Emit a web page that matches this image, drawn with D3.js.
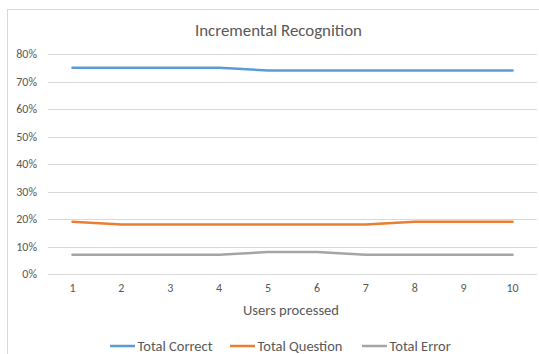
<!DOCTYPE html>
<html>
<head>
<meta charset="utf-8">
<script src="https://cdn.jsdelivr.net/npm/d3@7"></script>
<style>
  html, body { margin: 0; padding: 0; background: #fff; }
  svg { display: block; }
  text { font-family: Calibri, Carlito, Lato, sans-serif; fill: #595959; }
</style>
</head>
<body>
<script>
// Recognition rates after each processed user
const users = ["1", "2", "3", "4", "5", "6", "7", "8", "9", "10"];
const totalCorrect  = [75, 75, 75, 75, 74, 74, 74, 74, 74, 74];
const totalQuestion = [19, 18, 18, 18, 18, 18, 18, 19, 19, 19];
const totalError    = [7, 7, 7, 7, 8, 8, 7, 7, 7, 7];
const yTicks = [0, 10, 20, 30, 40, 50, 60, 70, 80];

const series = [
  { name: "Total Correct",  values: totalCorrect,  color: "#5B9BD5" },
  { name: "Total Question", values: totalQuestion, color: "#ED7D31" },
  { name: "Total Error",    values: totalError,    color: "#A5A5A5" }
];

const W = 539, H = 354;
const svg = d3.select("body").append("svg").attr("width", W).attr("height", H);

// scale a text's font size so it spans the given width
function fitWidth(sel, width) {
  const node = sel.node();
  const fs = parseFloat(sel.style("font-size"));
  const w = node.getComputedTextLength();
  if (w > 0) sel.style("font-size", (fs * width / w).toFixed(2) + "px");
  return sel;
}

// chart frame
svg.append("rect")
  .attr("x", 7.5).attr("y", 9.5).attr("width", 540).attr("height", 360)
  .attr("fill", "#fff").attr("stroke", "#D9D9D9").attr("stroke-width", 1);

const plot = { left: 48, right: 537, top: 54, bottom: 274 };

const x = d3.scaleBand().domain(users).range([plot.left, plot.right]);
const y = d3.scaleLinear().domain([0, 80]).range([plot.bottom, plot.top]);

// horizontal gridlines
svg.append("g").selectAll("line").data(yTicks).join("line")
  .attr("x1", plot.left).attr("x2", plot.right)
  .attr("y1", d => Math.round(y(d)) + 0.5).attr("y2", d => Math.round(y(d)) + 0.5)
  .attr("stroke", "#D9D9D9").attr("stroke-width", 1);

// y axis labels
const yAxis = svg.append("g")
  .attr("transform", `translate(${plot.left - 11},0)`)
  .call(d3.axisLeft(y).tickValues(yTicks).tickFormat(d => d + "%").tickSize(0).tickPadding(0));
yAxis.select(".domain").remove();
yAxis.selectAll("text").style("font-size", "12px").attr("fill", "#595959");

// x axis labels
const xAxis = svg.append("g")
  .attr("transform", `translate(0,${plot.bottom + 9})`)
  .call(d3.axisBottom(x).tickSize(0).tickPadding(0));
xAxis.select(".domain").remove();
xAxis.selectAll("text").style("font-size", "12px").attr("fill", "#595959");

// axis title
fitWidth(svg.append("text")
  .attr("x", 291).attr("y", 315)
  .attr("text-anchor", "middle").style("font-size", "13px")
  .text("Users processed"), 96);

// chart title
fitWidth(svg.append("text")
  .attr("x", 278.5).attr("y", 36)
  .attr("text-anchor", "middle").style("font-size", "16px")
  .text("Incremental Recognition"), 167);

// series lines
const line = d3.line()
  .x((d, i) => x(users[i]) + x.bandwidth() / 2)
  .y(d => y(d));

svg.append("g").selectAll("path").data(series).join("path")
  .attr("d", d => line(d.values))
  .attr("fill", "none")
  .attr("stroke", d => d.color)
  .attr("stroke-width", 2.5)
  .attr("stroke-linejoin", "round")
  .attr("stroke-linecap", "round");

// legend
const legendX = [110, 230, 362];
const legend = svg.append("g").selectAll("g").data(series).join("g")
  .attr("transform", (d, i) => `translate(${legendX[i]},346)`);
legend.append("line")
  .attr("x1", 0).attr("x2", 25).attr("y1", 0).attr("y2", 0)
  .attr("stroke", d => d.color).attr("stroke-width", 2.5);
const legendText = legend.append("text")
  .attr("x", 27.5).attr("y", 5)
  .style("font-size", "13px")
  .text(d => d.name);
// size the legend text from the first entry's width
const first = legendText.filter((d, i) => i === 0);
fitWidth(first, 75);
legendText.style("font-size", first.style("font-size"));
</script>
</body>
</html>
